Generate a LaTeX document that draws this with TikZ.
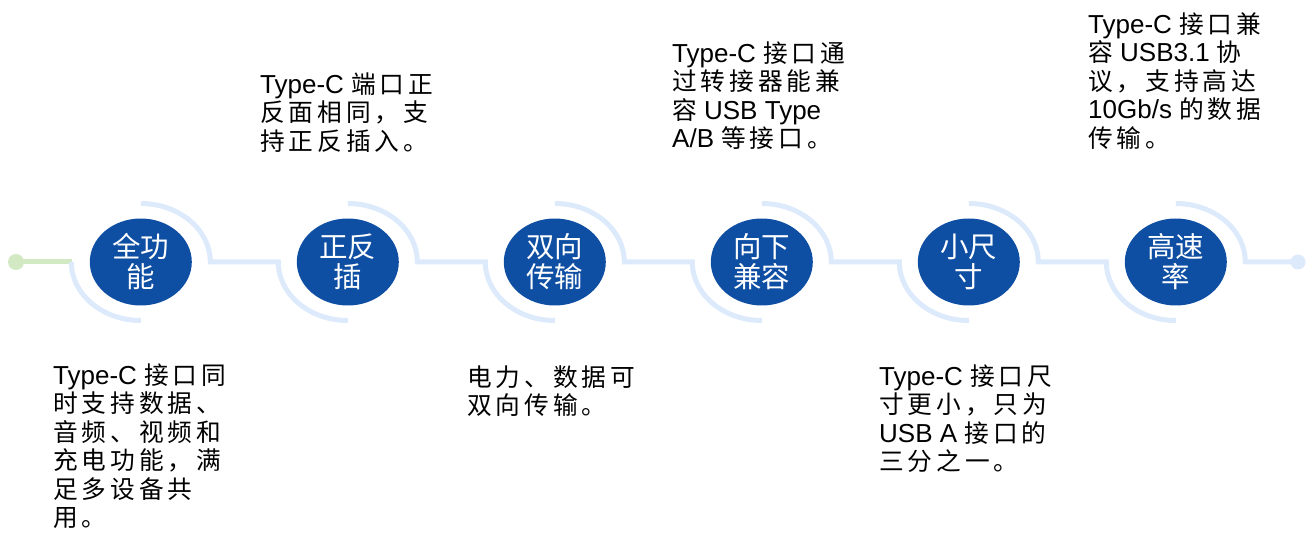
\documentclass[tikz,border=0pt]{standalone}
\usepackage{fontspec}
\setmainfont{Liberation Sans}
\newfontfamily\cjk[Scale=0.95,LetterSpace=16]{Noto Sans CJK SC}
\newfontfamily\cjkc{Noto Sans CJK SC}
\newcommand\zh[1]{{\cjk #1}}
\usetikzlibrary{shapes.geometric,calc}
\definecolor{bubblefill}{HTML}{0E4EA3}
\definecolor{trackblue}{HTML}{DCEAFB}
\definecolor{trackgreen}{HTML}{D3E9C3}
\tikzset{
  bubble/.style={ellipse,fill=bubblefill,draw=none,minimum width=102pt,minimum height=87pt,inner sep=0pt,
    text=white,align=center,font=\cjkc\fontsize{28.5}{30}\selectfont},
  track/.style={draw=trackblue,line width=5pt},
  greenline/.style={draw=trackgreen,line width=5pt},
  desc/.style={anchor=north west,inner sep=0pt,align=left,font=\fontsize{26}{28.5}\selectfont,text=black},
}
\newcommand\fl{\rule{0pt}{22pt}}
\begin{document}
\begin{tikzpicture}[x=1pt,y=1pt]
\useasboundingbox (0,0) rectangle (1309,536);
% bubbles
\node[bubble] (c1) at (140.8,274) {全功\\能};
\node[bubble] (c2) at (347.8,274) {正反\\插};
\node[bubble] (c3) at (554.8,274) {双向\\传输};
\node[bubble] (c4) at (761.8,274) {向下\\兼容};
\node[bubble] (c5) at (968.8,274) {小尺\\寸};
\node[bubble] (c6) at (1175.8,274) {高速\\率};
% end dots
\coordinate (gdot) at (16,274);
\coordinate (bdot) at (1298,274);
\fill[trackgreen] (gdot) circle (8);
\fill[trackblue] (bdot) circle (7.5);
\draw[greenline] (gdot) -- ($(c1.center)+(-69,0)$);
% track arcs
\draw[track] ($(c1.center)+(-69.5,0)$) arc[start angle=180,end angle=270,x radius=69.5,y radius=58.5];
\foreach \i in {1,...,5}{
  \pgfmathtruncatemacro\j{\i+1}
  \draw[track] ($(c\i.center)+(0,58.5)$) arc[start angle=90,end angle=0,x radius=69.5,y radius=58.5]
     -- ($(c\j.center)+(-69.5,0)$) arc[start angle=180,end angle=270,x radius=69.5,y radius=58.5];
}
\draw[track] ($(c6.center)+(0,58.5)$) arc[start angle=90,end angle=0,x radius=69.5,y radius=58.5] -- (bdot);
% descriptions
\node[desc] (t1) at (53,{536-384+22}) {\fl Type-C \zh{接口同}\\\zh{时支持数据、}\\\zh{音频、视频和}\\\zh{充电功能，满}\\\zh{足多设备共}\\\zh{用。}};
\node[desc] (t2) at (260,{536-93+22}) {\fl Type-C \zh{端口正}\\\zh{反面相同，支}\\\zh{持正反插入。}};
\node[desc] (t3) at (467,{536-386+22}) {\fl\zh{电力、数据可}\\\zh{双向传输。}};
\node[desc] (t4) at (672,{536-62+22}) {\fl Type-C \zh{接口通}\\\zh{过转接器能兼}\\\zh{容} USB Type\\A/B \zh{等接口。}};
\node[desc] (t5) at (879,{536-385+22}) {\fl Type-C \zh{接口尺}\\\zh{寸更小，只为}\\USB A \zh{接口的}\\\zh{三分之一。}};
\node[desc] (t6) at (1088,{536-33+22}) {\fl Type-C \zh{接口兼}\\\zh{容} USB3.1 \zh{协}\\\zh{议，支持高达}\\10Gb/s \zh{的数据}\\\zh{传输。}};
\end{tikzpicture}
\end{document}
